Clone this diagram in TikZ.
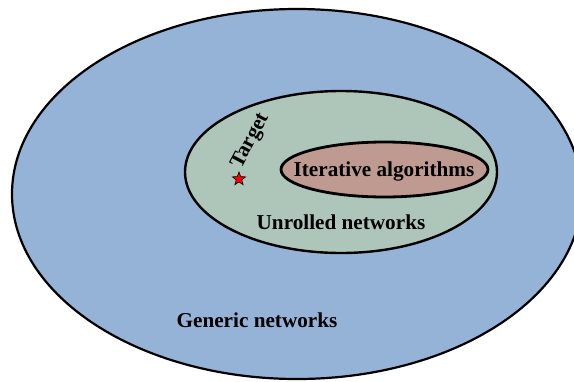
\documentclass[tikz,border=0pt]{standalone}
\usepackage{fontspec}
\setmainfont{Liberation Serif}
\usetikzlibrary{shapes.geometric}

\definecolor{genericblue}{RGB}{149,179,215}
\definecolor{unrolledgreen}{RGB}{174,197,185}
\definecolor{iterativerose}{RGB}{191,154,144}

\tikzset{
  setlabel/.style={font=\fontsize{10.6}{12}\selectfont\bfseries, inner sep=0pt},
  setborder/.style={draw=black, line width=#1},
}

\begin{document}
\begin{tikzpicture}[x=0.5pt, y=-0.5pt]
  % page frame, same size as the reference
  \clip (0,0) rectangle (574,381);
  % nested sets
  \filldraw[setborder=1.1pt, fill=genericblue] (297,194) ellipse (285 and 185);
  \filldraw[setborder=1.2pt, fill=unrolledgreen] (341,172) ellipse (156 and 81);
  \filldraw[setborder=1.4pt, fill=iterativerose] (384.5,169.5) ellipse (103.5 and 27.5);
  % labels
  \node[setlabel] (iterative) at (384,171) {Iterative algorithms};
  \node[setlabel] (unrolled) at (341,222) {Unrolled networks};
  \node[setlabel] (generic) at (257,320) {Generic networks};
  % target point
  \node[star, star points=5, star point ratio=2.4, draw=black, fill=red,
        line width=0.3pt, minimum size=7pt, inner sep=0pt] (target) at (239,179) {};
  \node[setlabel, rotate=62] (targetlabel) at (251,141) {Target};
\end{tikzpicture}
\end{document}
